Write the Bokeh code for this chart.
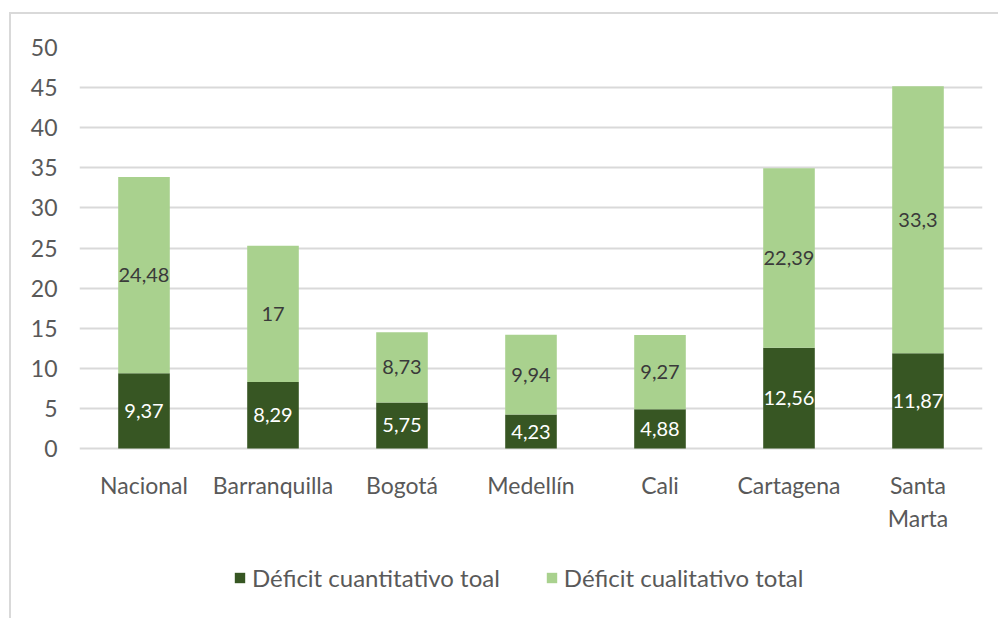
from bokeh.plotting import figure
from bokeh.models import ColumnDataSource, LabelSet, Legend, LegendItem, FixedTicker, Range1d
from bokeh.embed import file_html
from bokeh.resources import INLINE
from bokeh.core.properties import value

cities = ["Nacional", "Barranquilla", "Bogotá", "Medellín", "Cali", "Cartagena", "Santa Marta"]
cuantitativo = [9.37, 8.29, 5.75, 4.23, 4.88, 12.56, 11.87]
cualitativo = [24.48, 17, 8.73, 9.94, 9.27, 22.39, 33.3]
y_ticks = [0, 5, 10, 15, 20, 25, 30, 35, 40, 45, 50]
series_names = ["Déficit cuantitativo toal", "Déficit cualitativo total"]

DARK = "#375623"
LIGHT = "#A9D18E"
FONT = "Lato"

def fmt(v):
    return f"{v:g}".replace(".", ",")

xpos = list(range(len(cities)))
src = ColumnDataSource(dict(
    x=xpos,
    cuant=cuantitativo,
    cual=cualitativo,
    cuant_mid=[q / 2 for q in cuantitativo],
    cual_mid=[q + c / 2 for q, c in zip(cuantitativo, cualitativo)],
    cuant_lbl=[fmt(v) for v in cuantitativo],
    cual_lbl=[fmt(v) for v in cualitativo],
))

# layout geometry (pixels): value area is 401 px tall for 0..50, frame extends below for labels/legend
VALUE_PX = 401
FRAME_PX = 571
y_max = y_ticks[-1]
y_min = -(FRAME_PX - VALUE_PX) * y_max / VALUE_PX

p = figure(x_range=Range1d(-0.5, len(cities) - 0.5), y_range=Range1d(y_min, y_max),
           frame_width=903, frame_height=FRAME_PX,
           min_border_left=68, min_border_right=16, min_border_top=33, min_border_bottom=0,
           output_backend="svg", toolbar_location=None)

r = p.vbar_stack(["cuant", "cual"], x="x", width=0.4, color=[DARK, LIGHT],
                 line_color=None, source=src)

p.add_layout(LabelSet(x="x", y="cuant_mid", text="cuant_lbl", source=src,
                      text_align="center", text_baseline="middle", text_color="white",
                      text_font=value(FONT), text_font_size="20px"))
p.add_layout(LabelSet(x="x", y="cual_mid", text="cual_lbl", source=src,
                      text_align="center", text_baseline="middle", text_color="#3a3a3a",
                      text_font=value(FONT), text_font_size="20px"))

p.background_fill_color = "white"
p.border_fill_color = "white"
p.outline_line_color = None
p.xgrid.grid_line_color = None
p.ygrid.grid_line_color = "#d9d9d9"
p.ygrid.grid_line_width = 2
p.yaxis.ticker = FixedTicker(ticks=y_ticks)
p.xaxis.ticker = FixedTicker(ticks=xpos)
p.xaxis.fixed_location = 0
p.xaxis.major_label_overrides = {i: c.replace("Santa ", "Santa\n") for i, c in zip(xpos, cities)}

for ax in (p.xaxis[0], p.yaxis[0]):
    ax.axis_line_color = None
    ax.major_tick_line_color = None
    ax.minor_tick_line_color = None
    ax.major_tick_out = 0
    ax.major_tick_in = 0
    ax.major_label_text_font = FONT
    ax.major_label_text_font_size = "23px"
    ax.major_label_text_color = "#595959"

p.yaxis.major_label_standoff = 22
p.xaxis.major_label_standoff = 22

legend = Legend(items=[LegendItem(label=series_names[0], renderers=[r[0]]),
                       LegendItem(label=series_names[1], renderers=[r[1]])],
                location=(154, 26), orientation="horizontal",
                glyph_width=13, glyph_height=13, label_standoff=6, spacing=45,
                padding=0, margin=0, border_line_color=None, background_fill_alpha=0,
                label_text_font=FONT, label_text_font_size="24px", label_text_color="#595959")
p.add_layout(legend, "center")

p.styles = {"margin-left": "9px", "margin-top": "12px",
            "border-left": "2px solid #d9d9d9", "border-top": "2px solid #d9d9d9"}

open("out.html", "w").write(file_html(p, INLINE))
